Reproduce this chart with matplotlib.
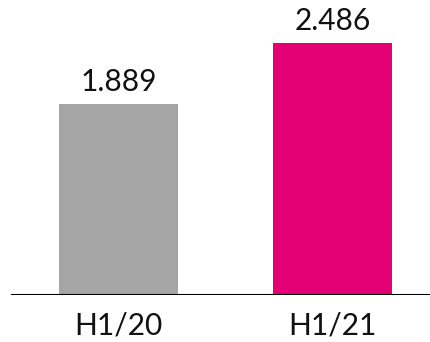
import matplotlib
matplotlib.use("Agg")
import matplotlib.pyplot as plt

periods = ["H1/20", "H1/21"]
values = [1.889, 2.486]
value_labels = ["1.889", "2.486"]
colors = ["#A5A5A5", "#E20074"]

plt.rcParams['font.family'] = ['Lato', 'DejaVu Sans']

fig = plt.figure(figsize=(4.31, 3.42), dpi=100)
ax = fig.add_axes([11 / 431, 47 / 342, 420 / 431, 295 / 342])

x = list(range(len(periods)))
ax.bar(x, values, width=0.556, color=colors)

# value labels above bars, period labels under the base line
for xi, v, lab, per in zip(x, values, value_labels, periods):
    ax.annotate(lab, (xi, v), xytext=(0, 13), textcoords="offset pixels",
                ha="center", va="baseline", fontsize=21.5, color="#111111")
    ax.annotate(per, (xi, 0), xytext=(0, -40), textcoords="offset pixels",
                ha="center", va="baseline", fontsize=21.5, color="#111111",
                annotation_clip=False)

ax.set_xlim(-0.502, 1.460)
ax.set_ylim(0, 2.910)
ax.axhline(0, color="black", linewidth=1.5)
for s in ax.spines.values():
    s.set_visible(False)
ax.set_xticks([])
ax.set_yticks([])

fig.savefig("out.png", dpi=100)
